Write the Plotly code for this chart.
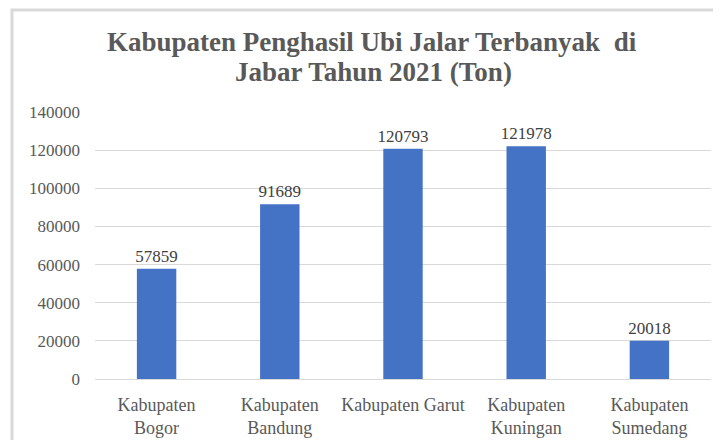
import plotly.graph_objects as go

categories = ["Kabupaten<br>Bogor", "Kabupaten<br>Bandung", "Kabupaten Garut", "Kabupaten<br>Kuningan", "Kabupaten<br>Sumedang"]
values = [57859, 91689, 120793, 121978, 20018]
tick_vals = [0, 20000, 40000, 60000, 80000, 100000, 120000, 140000]
tick_text = ["0", "20000", "40000", "60000", "80000", "100000", "120000", "140000"]
title_lines = ["Kabupaten Penghasil Ubi Jalar Terbanyak  di", "Jabar Tahun 2021 (Ton)"]

serif = "Liberation Serif"

fig = go.Figure(go.Bar(
    x=categories, y=values, width=0.32,
    marker=dict(color="#4472C4", line=dict(width=0)),
    text=[str(v) for v in values], textposition="outside",
    textfont=dict(family=serif, size=17, color="#404040"),
    constraintext="none",
    cliponaxis=False,
))

# page has an 8px body margin; figure coordinates are page coordinates minus 8
W, H = 713, 432
L, R, T, B = 87, 10, 104, 61
pw, ph = W - L - R, H - T - B

def px(x):
    return (x - L) / pw

def py(y):
    return (H - B - y) / ph

annotations = []
for line, (cx, cy) in zip(title_lines, [(364, 34), (365, 64)]):
    annotations.append(dict(text=line, xref="paper", yref="paper", x=px(cx), y=py(cy),
                            xanchor="center", yanchor="middle", showarrow=False,
                            font=dict(family=serif, size=27, color="#595959", weight="bold")))

fig.update_layout(
    width=W, height=H,
    margin=dict(l=L, r=R, t=T, b=B, autoexpand=False),
    paper_bgcolor="white", plot_bgcolor="white",
    showlegend=False,
    annotations=annotations,
    xaxis=dict(showgrid=False, showline=True, linecolor="#d9d9d9", linewidth=1,
               ticks="", automargin=False, ticklabelstandoff=9,
               tickfont=dict(family=serif, size=18, color="#595959")),
    yaxis=dict(range=[0, 140000], tickvals=tick_vals, ticktext=tick_text,
               showgrid=True, gridcolor="#d9d9d9", automargin=False,
               gridwidth=1, zeroline=False, showline=False, ticks="",
               tickfont=dict(family=serif, size=17, color="#595959"), ticklabelstandoff=14),
    shapes=[dict(type="rect", xref="paper", yref="paper",
                 x0=px(4), x1=px(740), y0=py(460), y1=py(2),
                 line=dict(color="#d9d9d9", width=3), fillcolor="rgba(0,0,0,0)", layer="below")],
)

fig.write_html("out.html")
